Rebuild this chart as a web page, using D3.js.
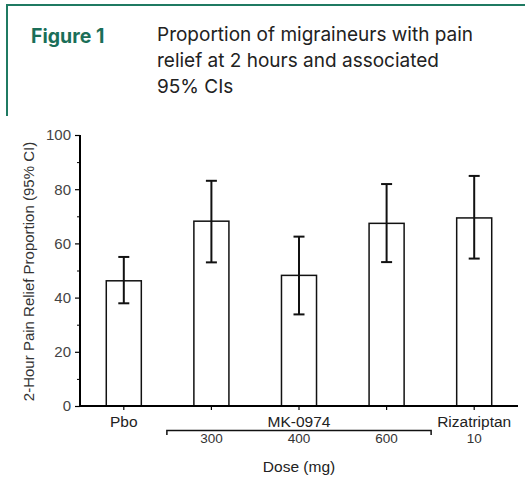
<!DOCTYPE html>
<html><head><meta charset="utf-8">
<script src="https://cdn.jsdelivr.net/npm/d3@7"></script>
<style>body{margin:0;background:#fff;} svg{display:block;}</style>
</head><body>
<svg id="chart" width="525" height="481"></svg>
<script>
const categories = ["Pbo", "300", "400", "600", "Rizatriptan"];
const proportions = [46.2, 68.2, 48.2, 67.4, 69.4];
const ciLower = [37.9, 53.0, 33.8, 53.1, 54.4];
const ciUpper = [55.0, 83.1, 62.5, 81.9, 84.9];
const topLabels = ["Pbo", "", "MK-0974", "", "Rizatriptan"];
const doseLabels = ["", "300", "400", "600", "10"];
const yTicks = [0, 20, 40, 60, 80, 100];
const yMinorTicks = [10, 30, 50, 70, 90];

const svg = d3.select("#chart");
const green = "#1f7a62";

// frame
svg.append("line").attr("x1", 6).attr("x2", 525).attr("y1", 5).attr("y2", 5).attr("stroke", green).attr("stroke-width", 2);
svg.append("line").attr("x1", 7).attr("x2", 7).attr("y1", 4).attr("y2", 116).attr("stroke", green).attr("stroke-width", 2);

svg.append("text").attr("x", 31).attr("y", 43).attr("fill", "#1a6e58")
  .attr("font-family", "Inter, 'Open Sans', sans-serif").attr("font-weight", 700).attr("font-size", 19.5)
  .text("Figure 1");
const titleLines = ["Proportion of migraineurs with pain", "relief at 2 hours and associated", "95% CIs"];
svg.append("g").selectAll("text").data(titleLines).join("text")
  .attr("x", 157).attr("y", (d, i) => 41 + i * 26)
  .attr("fill", "#222").attr("font-family", "Inter, 'Open Sans', sans-serif").attr("font-size", 19)
  .text(d => d);

const font = "'Liberation Sans', Arial, sans-serif";
const x = d3.scaleBand().domain(categories).range([80, 518]).paddingInner(0.6).paddingOuter(0.3);
const y = d3.scaleLinear().domain([0, 100]).range([406, 135]);

// bars
svg.append("g").selectAll("rect").data(categories).join("rect")
  .attr("x", d => x(d)).attr("width", x.bandwidth())
  .attr("y", (d, i) => y(proportions[i])).attr("height", (d, i) => y(0) - y(proportions[i]))
  .attr("fill", "#fff").attr("stroke", "#111").attr("stroke-width", 1.5);

// error bars
const eb = svg.append("g").attr("stroke", "#111").attr("stroke-width", 2);
categories.forEach((c, i) => {
  const cx = x(c) + x.bandwidth() / 2;
  eb.append("line").attr("x1", cx).attr("x2", cx).attr("y1", y(ciLower[i])).attr("y2", y(ciUpper[i]));
  eb.append("line").attr("x1", cx - 5.5).attr("x2", cx + 5.5).attr("y1", y(ciLower[i])).attr("y2", y(ciLower[i]));
  eb.append("line").attr("x1", cx - 5.5).attr("x2", cx + 5.5).attr("y1", y(ciUpper[i])).attr("y2", y(ciUpper[i]));
});

// y axis
const yAxis = svg.append("g").attr("transform", "translate(80,0)")
  .call(d3.axisLeft(y).tickValues(yTicks).tickSize(5).tickPadding(4));
yAxis.select(".domain").attr("stroke-width", 2).attr("d", "M0," + y(100) + "V" + (y(0) + 1));
yAxis.selectAll(".tick line").attr("stroke-width", 1.2);
yAxis.selectAll("text").attr("font-family", font).attr("font-size", 15).attr("fill", "#444");
const yMinor = svg.append("g").attr("transform", "translate(80,0)")
  .call(d3.axisLeft(y).tickValues(yMinorTicks).tickSize(3).tickFormat(""));
yMinor.select(".domain").remove();

// x axis
const xAxis = svg.append("g").attr("transform", "translate(0,406)")
  .call(d3.axisBottom(x).tickSize(4).tickFormat(""));
xAxis.select(".domain").attr("stroke-width", 2).attr("d", "M79,0H518");
xAxis.selectAll(".tick line").attr("stroke-width", 1.2);

svg.append("g").selectAll("text").data(categories).join("text")
  .attr("x", d => x(d) + x.bandwidth() / 2).attr("y", 427).attr("text-anchor", "middle")
  .attr("font-family", font).attr("font-size", 15.5).attr("fill", "#222")
  .text((d, i) => topLabels[i]);
svg.append("g").selectAll("text").data(categories).join("text")
  .attr("x", d => x(d) + x.bandwidth() / 2).attr("y", 443).attr("text-anchor", "middle")
  .attr("font-family", font).attr("font-size", 13.5).attr("fill", "#333")
  .text((d, i) => doseLabels[i]);

// bracket
const bx1 = x("300") - 27, bx2 = x("600") + x.bandwidth() + 27;
svg.append("path").attr("d", `M${bx1},435V430.5H${bx2}V435`).attr("fill", "none").attr("stroke", "#111").attr("stroke-width", 1.5);

svg.append("text").attr("x", x("400") + x.bandwidth() / 2).attr("y", 472).attr("text-anchor", "middle")
  .attr("font-family", font).attr("font-size", 15.5).attr("fill", "#222").text("Dose (mg)");

svg.append("text").attr("transform", `translate(34,${(y(0) + y(100)) / 2 + 1}) rotate(-90)`).attr("text-anchor", "middle")
  .attr("font-family", font).attr("font-size", 15).attr("fill", "#333").text("2-Hour Pain Relief Proportion (95% CI)");
</script>
</body></html>
